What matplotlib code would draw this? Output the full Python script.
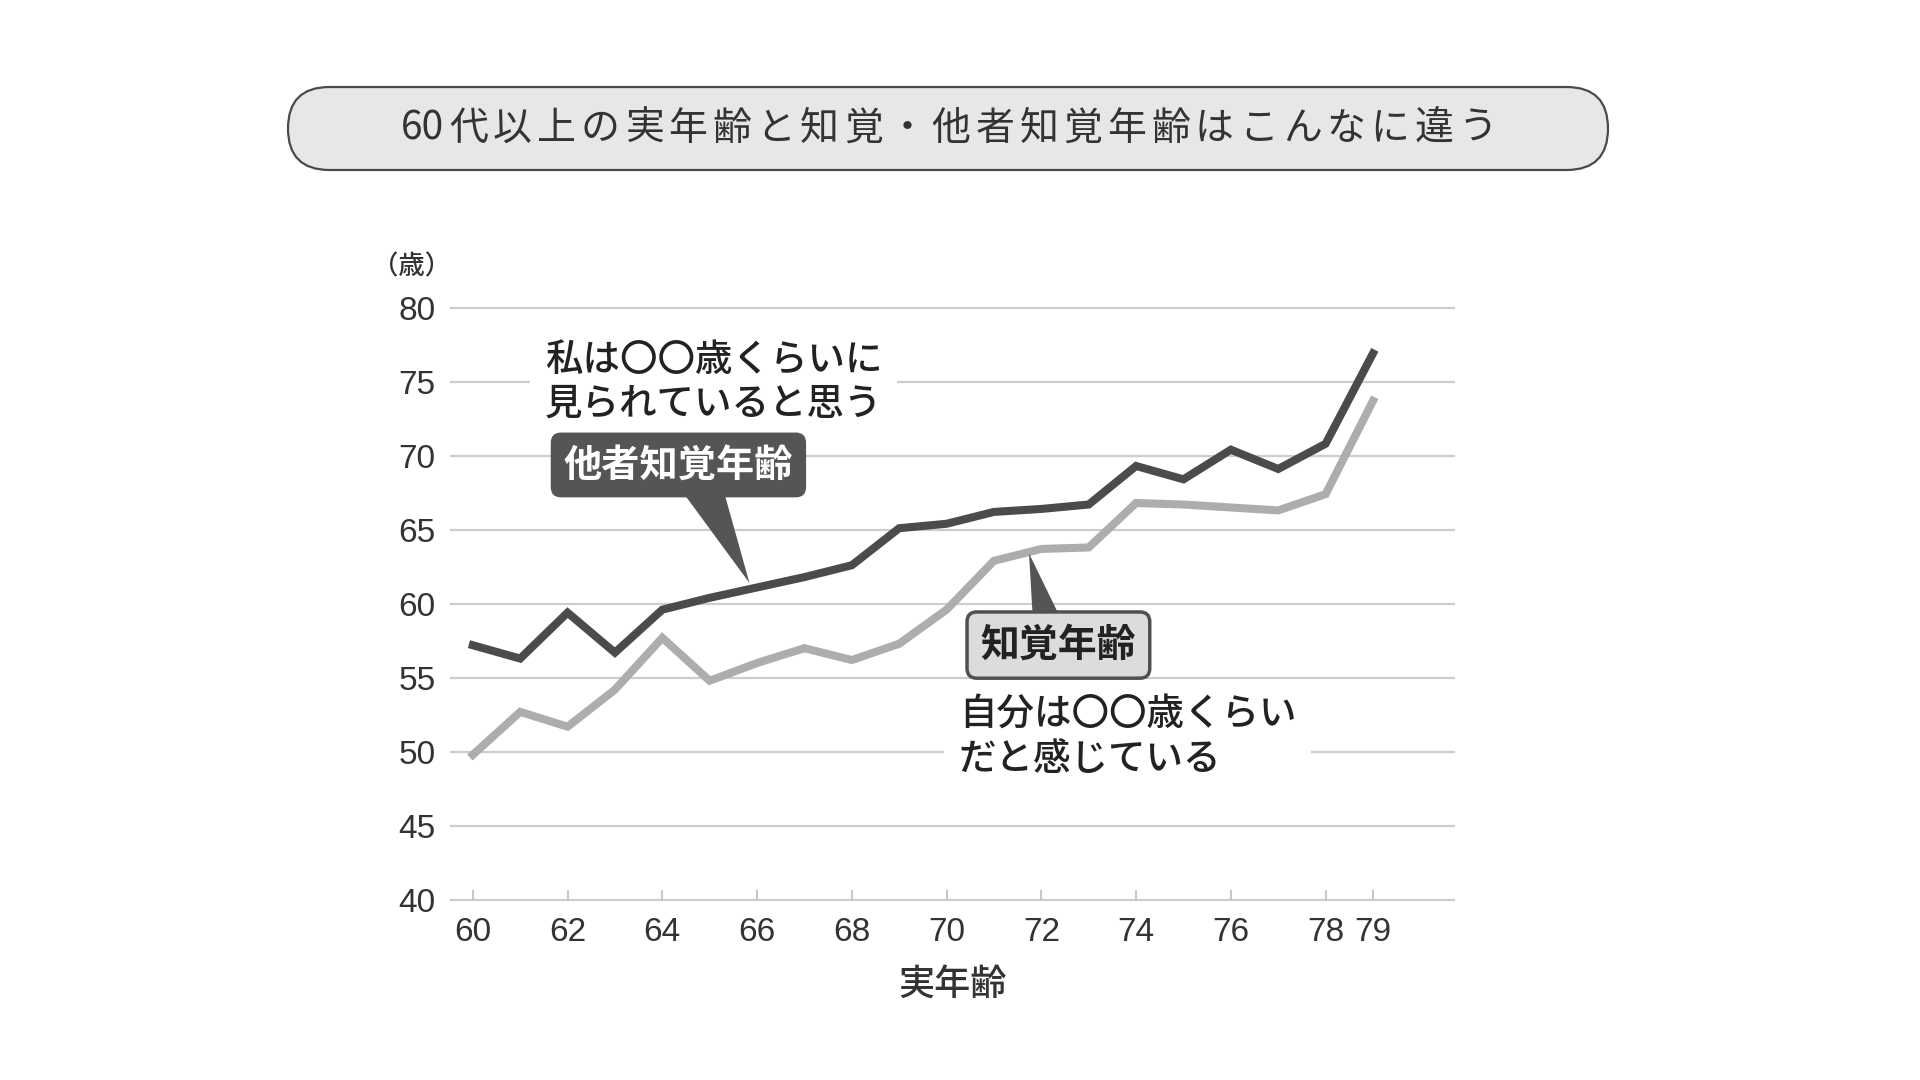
import matplotlib.pyplot as plt
from matplotlib.patches import FancyBboxPatch, Polygon

plt.rcParams['font.family'] = ['Liberation Sans', 'Noto Sans CJK JP', 'DejaVu Sans']
JP = ['Noto Sans CJK JP', 'DejaVu Sans']

# data
ages = [60, 61, 62, 63, 64, 65, 66, 67, 68, 69, 70, 71, 72, 73, 74, 75, 76, 77, 78, 79]
other_age = [57.2, 56.3, 59.4, 56.7, 59.6, 60.4, 61.1, 61.8, 62.6, 65.1,
             65.4, 66.2, 66.4, 66.7, 69.3, 68.4, 70.4, 69.1, 70.8, 76.9]
self_age = [49.8, 52.7, 51.7, 54.2, 57.7, 54.8, 56.0, 57.0, 56.2, 57.3,
            59.6, 62.9, 63.7, 63.8, 66.8, 66.7, 66.5, 66.3, 67.4, 73.7]
x_ticks = [60, 62, 64, 66, 68, 70, 72, 74, 76, 78, 79]
y_ticks = [40, 45, 50, 55, 60, 65, 70, 75, 80]

title = '60代以上の実年齢と知覚・他者知覚年齢はこんなに違う'

fig = plt.figure(figsize=(19.2, 10.8), dpi=100)
renderer = fig.canvas.get_renderer()

# title pill, drawn in pixel space
bg = fig.add_axes([0, 0, 1, 1])
bg.set_xlim(0, 1920)
bg.set_ylim(1080, 0)
bg.axis('off')
pill = FancyBboxPatch((288, 87), 1320, 83,
                      boxstyle='round,pad=0,rounding_size=41.5',
                      fc='#e7e7e8', ec='#4a4a4a', lw=1.6)
bg.add_patch(pill)

# title is letter-spaced, so lay the characters out one by one
tokens = ['60'] + list(title[2:])
pieces = [bg.text(0, 129, tk, family=JP, fontsize=28, color='#333333',
                  ha='left', va='center') for tk in tokens]
widths = [p.get_window_extent(renderer).width for p in pieces]
x_start, x_end = 401, 1497
gap = (x_end - x_start - sum(widths)) / (len(tokens) - 1)
x = x_start
for p, w in zip(pieces, widths):
    p.set_x(x)
    x += w + gap

ax = fig.add_axes([451 / 1920, 1 - 900 / 1080, 1003 / 1920, 592.5 / 1080])
ax.set_xlim(59.54, 80.71)
ax.set_ylim(40, 80)
for s in ax.spines.values():
    s.set_visible(False)

for v in y_ticks:
    ax.axhline(v, color='#cdcdcd', lw=1.6, zorder=0, clip_on=False)

ax.plot(ages, self_age, color='#adadad', lw=5.8, zorder=3, solid_joinstyle='miter')
ax.plot(ages, other_age, color='#4b4b4b', lw=5.8, zorder=3, solid_joinstyle='miter')

ax.set_yticks(y_ticks)
ax.set_xticks(x_ticks)
ax.tick_params(axis='y', length=0, pad=11, labelsize=24, labelcolor='#333333')
ax.tick_params(axis='x', direction='in', length=7, width=1.2, color='#bdbdbd',
               pad=12, labelsize=24, labelcolor='#333333')
ax.set_xlabel('実年齢', family=JP, fontsize=26, weight='medium',
              color='#333333', labelpad=14)

fig.text(412 / 1920, 1 - 267 / 1080, '（歳）', family=JP, fontsize=19,
         weight='medium', color='#333333', ha='center', va='center')

# callout: 他者知覚年齢
ax.add_patch(Polygon([(64.37, 67.8), (65.28, 67.8), (65.84, 61.4)],
                     closed=True, fc='#555555', ec='none', zorder=4))
ax.text(64.34, 69.37, '他者知覚年齢', family=JP, fontsize=27.5, weight='bold',
        color='white', ha='center', va='center', zorder=5,
        bbox=dict(boxstyle='round,pad=0.32,rounding_size=0.25',
                  fc='#555555', ec='#555555'))
ax.text(61.52, 75.0, '私は〇〇歳くらいに\n見られていると思う', family=JP,
        fontsize=27, weight='medium', color='#222222', ha='left', va='center',
        linespacing=1.2, zorder=2,
        bbox=dict(boxstyle='square,pad=0.4', fc='white', ec='none'))

# callout: 知覚年齢
ax.add_patch(Polygon([(71.82, 59.0), (72.41, 59.0), (71.74, 63.4)],
                     closed=True, fc='#555555', ec='none', zorder=4))
ax.text(72.36, 57.21, '知覚年齢', family=JP, fontsize=28, weight='bold',
        color='#222222', ha='center', va='center', zorder=5,
        bbox=dict(boxstyle='round,pad=0.35,rounding_size=0.25',
                  fc='#dcdcdd', ec='#505050', lw=2.5))
ax.text(70.26, 51.0, '自分は〇〇歳くらい\nだと感じている', family=JP,
        fontsize=27, weight='medium', color='#222222', ha='left', va='center',
        linespacing=1.2, zorder=2,
        bbox=dict(boxstyle='square,pad=0.4', fc='white', ec='none'))

fig.savefig('out.png', dpi=100)
